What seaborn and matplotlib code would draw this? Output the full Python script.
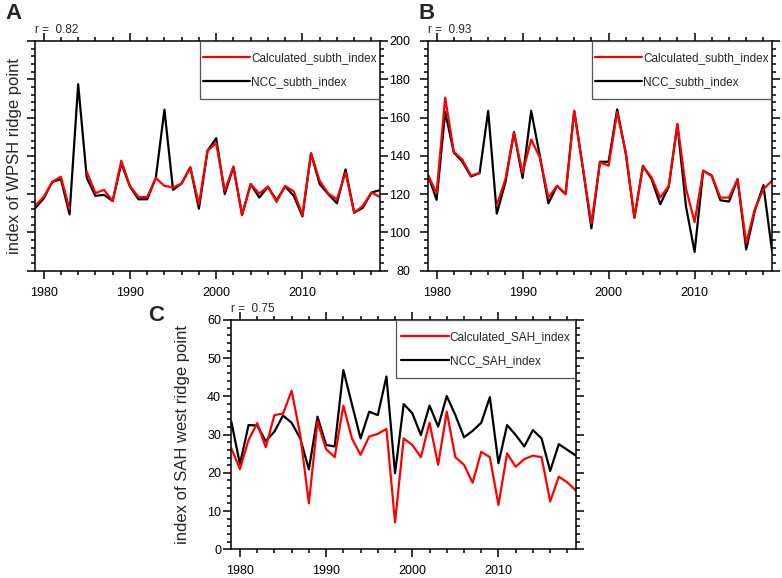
import numpy as np
import pandas as pd
import seaborn as sns
import matplotlib
matplotlib.use('Agg')
import matplotlib.pyplot as plt
from matplotlib.ticker import MultipleLocator
from matplotlib.patches import Rectangle

years = list(range(1979, 2020))
nan = np.nan

# panel A: WPSH ridge point
calc_wpsh = [113.8, 118.5, 126.4, 129.1, 112.1, nan, 131.7, 120.5, 122.2, 116.4,
             137.5, 124.3, 118.5, 118.5, 128.4, 124.3, 123.5, 125.6, 134.0, 114.7,
             142.7, 146.6, 121.7, 134.3, 109.1, 125.2, 120.3, 124.0, 115.9, 124.3,
             121.4, 109.1, 141.3, 127.0, 120.3, 117.3, 131.3, 110.3, 113.8, 120.8,
             118.5]
ncc_wpsh = [112.6, 117.7, 126.4, 127.8, 109.4, 177.4, 128.4, 119.1, 119.6, 116.4,
            136.0, 124.0, 117.3, 117.3, 128.4, 164.1, 122.2, 125.6, 134.0, 112.4,
            142.7, 149.2, 120.0, 134.3, 109.1, 125.2, 118.2, 123.8, 116.8, 124.0,
            119.1, 108.4, 141.3, 125.2, 120.0, 115.2, 132.9, 110.3, 112.9, 120.8,
            122.1]

# panel B: subtropical high index
calc_subth = [130.0, 120.5, 170.4, 142.1, 138.0, 129.6, 131.0, nan, 114.2, 127.8,
              152.0, 131.0, 148.5, 139.2, 118.2, 124.3, 120.0, 163.5, 134.0, 104.7,
              136.6, 134.8, 162.9, 141.8, 107.7, 134.5, 128.7, 118.2, 124.3, 156.7,
              123.0, 105.4, 132.2, 129.6, 118.2, 118.2, 127.8, 94.5, 112.1, 122.6,
              127.0]
ncc_subth = [130.0, 117.0, 162.9, 141.8, 136.9, 129.2, 131.0, 163.5, 109.8, 126.1,
             152.4, 128.4, 163.5, 140.1, 115.2, 124.3, 120.0, 163.5, 134.0, 102.1,
             136.9, 136.9, 164.3, 141.0, 107.7, 134.8, 127.8, 114.7, 124.0, 156.2,
             113.5, 89.8, 132.2, 129.6, 116.8, 116.1, 127.8, 91.1, 111.2, 124.7,
             90.5]

# panel C: SAH west ridge point
calc_sah = [26.4, 21.0, 28.6, 33.0, 26.7, 35.1, 35.5, 41.5, 29.9, 12.0,
            33.4, 26.2, 24.1, 37.6, 29.0, 24.7, 29.5, 30.2, 31.5, 7.0,
            29.0, 27.3, 24.1, 33.1, 22.1, 36.0, 24.1, 22.1, 17.4, 25.5,
            24.1, 11.6, 25.1, 21.6, 23.6, 24.5, 24.1, 12.5, 19.0, 17.5,
            15.3]
ncc_sah = [33.4, 22.3, 32.5, 32.4, 28.3, 30.8, 35.0, 33.1, 29.0, 20.9,
           34.7, 27.3, 26.9, 46.9, 37.9, 29.0, 36.0, 35.1, 45.2, 19.9,
           38.0, 35.6, 29.9, 37.6, 32.1, 40.1, 35.1, 29.3, 31.0, 33.1,
           39.8, 22.5, 32.5, 29.9, 26.9, 31.2, 29.0, 20.5, 27.5, 26.0,
           24.5]

panels = [
    ('A', 'r =  0.82', calc_wpsh, ncc_wpsh, 'Calculated_subth_index', 'NCC_subth_index',
     'index of WPSH ridge point', (80, 200), 20, 4),
    ('B', 'r =  0.93', calc_subth, ncc_subth, 'Calculated_subth_index', 'NCC_subth_index',
     None, (80, 200), 20, 4),
    ('C', 'r =  0.75', calc_sah, ncc_sah, 'Calculated_SAH_index', 'NCC_SAH_index',
     'index of SAH west ridge point', (0, 60), 10, 2),
]

sns.set_style('ticks')
plt.rcParams['font.family'] = ['Liberation Sans', 'DejaVu Sans']

fig = plt.figure(figsize=(7.82, 5.78), dpi=100)
rects = [[0.0448, 0.5317, 0.4412, 0.3974],
         [0.5473, 0.5317, 0.4399, 0.3974],
         [0.2958, 0.0497, 0.4408, 0.3967]]
letter_pos = [(0.017, 0.977), (0.545, 0.977), (0.200, 0.455)]
ylab_x = [-0.038, None, -0.12]
ypad = [4, 7.3, 1.8]
xpad = [6.5, 6.5, 5.5]


def draw_series(ax, vals, color, label):
    df = pd.DataFrame({'year': years, 'val': vals})
    # break the line at missing years
    df['seg'] = df['val'].isna().cumsum()
    df = df.dropna()
    sns.lineplot(data=df, x='year', y='val', units='seg', estimator=None,
                 color=color, linewidth=1.6, ax=ax, legend=False)
    return plt.Line2D([], [], color=color, linewidth=1.6, label=label)


for i, (letter, rtxt, calc, ncc, lab_c, lab_n, ylab, ylim, ymaj, ymin) in enumerate(panels):
    ax = fig.add_axes(rects[i])
    h_n = draw_series(ax, ncc, 'black', lab_n)
    h_c = draw_series(ax, calc, '#ff0000', lab_c)

    ax.set_xlim(1979, 2019)
    ax.set_ylim(*ylim)
    ax.xaxis.set_major_locator(MultipleLocator(10))
    ax.xaxis.set_minor_locator(MultipleLocator(2))
    ax.yaxis.set_major_locator(MultipleLocator(ymaj))
    ax.yaxis.set_minor_locator(MultipleLocator(ymin))
    ax.tick_params(which='both', direction='out', top=True, right=True,
                   labeltop=False, labelright=False, width=1.1, colors='black',
                   labelsize=9)
    ax.tick_params(which='major', length=5.5)
    ax.tick_params(which='minor', length=3)
    ax.tick_params(axis='x', pad=xpad[i])
    ax.tick_params(axis='y', pad=ypad[i])
    if letter == 'A':
        ax.tick_params(axis='y', labelleft=False)
    for s in ax.spines.values():
        s.set_linewidth(1.1)
        s.set_color('black')

    ax.set_xlabel('')
    if ylab:
        ax.set_ylabel(ylab, fontsize=12)
        ax.yaxis.set_label_coords(ylab_x[i], 0.5)
    else:
        ax.set_ylabel('')

    ax.text(0, 1.035, rtxt, transform=ax.transAxes, ha='left', va='baseline', fontsize=8.5)

    box = (0.477, 0.747, 0.523, 0.253)
    ax.add_patch(Rectangle(box[:2], box[2], box[3], transform=ax.transAxes,
                           fill=False, edgecolor='#555555', linewidth=0.9, zorder=5))
    ax.legend(handles=[h_c, h_n], loc='center', bbox_to_anchor=box, frameon=False,
              fontsize=8.5, handlelength=4.0, handletextpad=0.1, labelspacing=1.0,
              borderpad=0.2, borderaxespad=0)

    fig.text(letter_pos[i][0], letter_pos[i][1], letter, fontsize=16,
             fontweight='bold', ha='center', va='center')

fig.savefig('out.png', dpi=100)
